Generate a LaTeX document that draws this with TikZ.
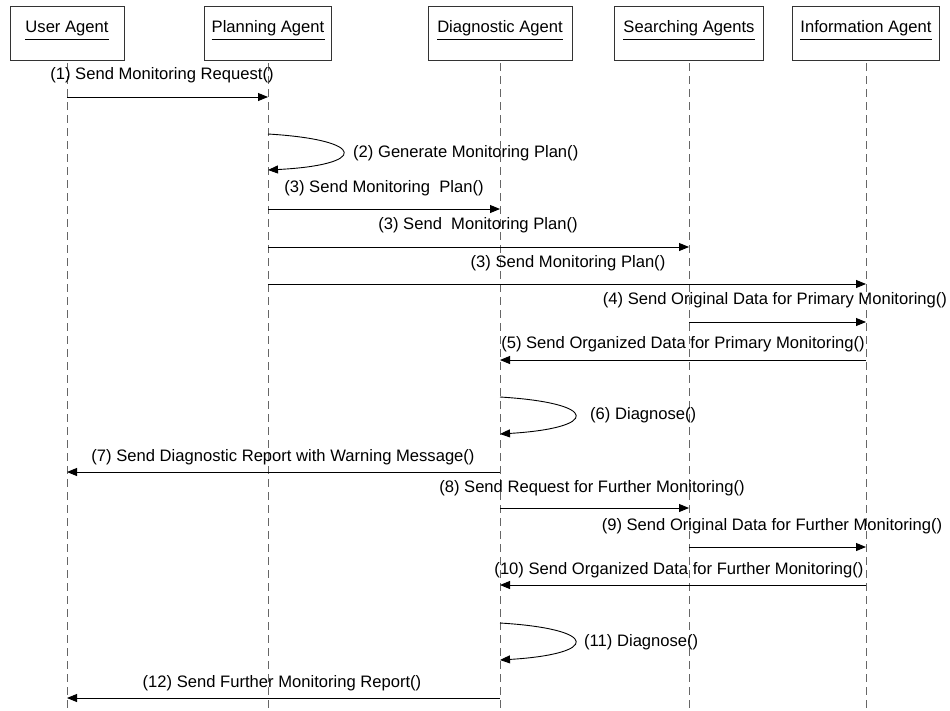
\documentclass[tikz,border=0pt]{standalone}
\usepackage{fontspec}
\setmainfont{Liberation Sans}
\usetikzlibrary{arrows.meta}
\begin{document}
\begin{tikzpicture}[x=1pt,y=-1pt,
  agent/.style={draw=black!80, line width=0.9pt, fill=white, minimum height=54pt, inner sep=0pt},
  life/.style={draw=black!60, line width=1pt, dash pattern=on 8pt off 5pt},
  msg/.style={draw=black, line width=0.9pt, -{Triangle[length=10pt,width=8pt]}},
  lbl/.style={font=\fontsize{16.6}{20}\selectfont, inner sep=0pt},
  uline/.style={draw=black, line width=0.9pt}
]
\useasboundingbox (0,0) rectangle (950,710);
\fill[white] (0,0) rectangle (950,710);

% agent boxes
\node[agent, minimum width=114pt] (ua) at (67,33) {};
\node[agent, minimum width=127pt] (pa) at (268,33) {};
\node[agent, minimum width=144pt] (da) at (500,33) {};
\node[agent, minimum width=149pt] (sa) at (689,33) {};
\node[agent, minimum width=147pt] (ia) at (866,33) {};

\node[lbl, anchor=base] (uat) at (67,32) {User Agent};
\node[lbl, anchor=base] (pat) at (268,32) {Planning Agent};
\node[lbl, anchor=base] (dat) at (500,32) {Diagnostic Agent};
\node[lbl, anchor=base] (sat) at (689,32) {Searching Agents};
\node[lbl, anchor=base] (iat) at (866,32) {Information Agent};
\foreach \t in {uat,pat,dat,sat,iat}
  \draw[uline] ([yshift=-7pt]\t.base west) -- ([yshift=-7pt]\t.base east);

% lifelines
\coordinate (ue) at (67,710);
\coordinate (pe) at (268,710);
\coordinate (de) at (500,710);
\coordinate (se) at (689,710);
\coordinate (ie) at (866,710);
\draw[life] ([yshift=-3pt]ua.south) -- (ue);
\draw[life] ([yshift=-3pt]pa.south) -- (pe);
\draw[life] ([yshift=-3pt]da.south) -- (de);
\draw[life] ([yshift=-3pt]sa.south) -- (se);
\draw[life] ([yshift=-3pt]ia.south) -- (ie);

% (1)
\coordinate (m1a) at (67,97); \coordinate (m1b) at (268,97);
\draw[msg] (m1a) -- (m1b);
\node[lbl] (l1) at (162,75) {(1) Send Monitoring Request()};

% (2) self
\coordinate (m2a) at (268,134); \coordinate (m2b) at (268,170);
\draw[msg] (m2a) .. controls (368,140) and (368,165) .. (m2b);
\node[lbl, anchor=west] (l2) at (353,153) {(2) Generate Monitoring Plan()};

% (3)
\coordinate (m3a) at (268,209); \coordinate (m3b) at (500,209);
\draw[msg] (m3a) -- (m3b);
\node[lbl] (l3a) at (384,188) {(3) Send Monitoring\ \ Plan()};
\coordinate (m3c) at (268,247); \coordinate (m3d) at (689,247);
\draw[msg] (m3c) -- (m3d);
\node[lbl] (l3b) at (478,225) {(3) Send\ \ Monitoring Plan()};
\coordinate (m3e) at (268,284); \coordinate (m3f) at (866,284);
\draw[msg] (m3e) -- (m3f);
\node[lbl] (l3c) at (568,263) {(3) Send Monitoring Plan()};

% (4)
\coordinate (m4a) at (689,322); \coordinate (m4b) at (866,322);
\draw[msg] (m4a) -- (m4b);
\node[lbl] (l4) at (775,300) {(4) Send Original Data for Primary Monitoring()};

% (5)
\coordinate (m5a) at (866,360); \coordinate (m5b) at (500,360);
\draw[msg] (m5a) -- (m5b);
\node[lbl] (l5) at (683,344) {(5) Send Organized Data for Primary Monitoring()};

% (6) self
\coordinate (m6a) at (500,397); \coordinate (m6b) at (500,434);
\draw[msg] (m6a) .. controls (600,403) and (600,428) .. (m6b);
\node[lbl, anchor=west] (l6) at (590,415) {(6) Diagnose()};

% (7)
\coordinate (m7a) at (500,472); \coordinate (m7b) at (67,472);
\draw[msg] (m7a) -- (m7b);
\node[lbl] (l7) at (283,457) {(7) Send Diagnostic Report with Warning Message()};

% (8)
\coordinate (m8a) at (500,508); \coordinate (m8b) at (689,508);
\draw[msg] (m8a) -- (m8b);
\node[lbl] (l8) at (592,488) {(8) Send Request for Further Monitoring()};

% (9)
\coordinate (m9a) at (689,547); \coordinate (m9b) at (866,547);
\draw[msg] (m9a) -- (m9b);
\node[lbl] (l9) at (772,526) {(9) Send Original Data for Further Monitoring()};

% (10)
\coordinate (m10a) at (866,585); \coordinate (m10b) at (500,585);
\draw[msg] (m10a) -- (m10b);
\node[lbl] (l10) at (679,570) {(10) Send Organized Data for Further Monitoring()};

% (11) self
\coordinate (m11a) at (500,623); \coordinate (m11b) at (500,660);
\draw[msg] (m11a) .. controls (600,629) and (600,654) .. (m11b);
\node[lbl, anchor=west] (l11) at (584,642) {(11) Diagnose()};

% (12)
\coordinate (m12a) at (500,698); \coordinate (m12b) at (67,698);
\draw[msg] (m12a) -- (m12b);
\node[lbl] (l12) at (282,683) {(12) Send Further Monitoring Report()};
\end{tikzpicture}
\end{document}
